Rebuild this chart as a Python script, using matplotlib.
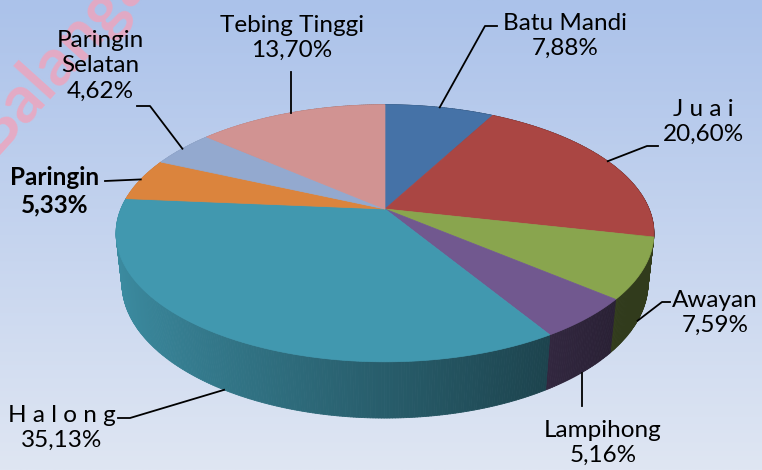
import matplotlib.pyplot as plt
import numpy as np
from matplotlib.collections import PolyCollection
from matplotlib.colors import to_rgb

# data: share of each kecamatan (percent), clockwise from the top
kecamatan = ['Batu Mandi', 'J u a i', 'Awayan', 'Lampihong', 'H a l o n g',
             'Paringin', 'Paringin\nSelatan', 'Tebing Tinggi']
persen = [7.88, 20.60, 7.59, 5.16, 35.13, 5.33, 4.62, 13.70]
warna = ['#4572a7', '#aa4643', '#89a54e', '#71588f', '#4198af',
         '#db843d', '#93a9cf', '#d19392']

# label layout in pixels: text centre, elbow of leader, end of leader
teks_xy = [(565, 36), (703, 122), (715, 313), (603, 443), (62, 428),
           (55, 191), (100, 66), (292, 38)]
siku = [(485, 26), (647, 146), (662, 302), (None, 406), (130, 418),
        (105, 181), (150, 106), (None, 72)]
ujung = [(497, 26), (658, 146), (670, 302), None, (118, 418),
         None, (137, 106), None]

W, H = 762, 470
fig = plt.figure(figsize=(W / 100, H / 100), dpi=100)
ax = fig.add_axes([0, 0, 1, 1])
ax.set_xlim(0, W)
ax.set_ylim(H, 0)
ax.axis('off')

# background gradient
top = np.array(to_rgb('#abc2ea'))
bot = np.array(to_rgb('#dfe6f3'))
t = np.linspace(0, 1, 256)[:, None, None]
grad = top * (1 - t) + bot * t
grad = np.repeat(grad, 2, axis=1)
ax.imshow(grad, extent=[0, W, H, 0], aspect='auto', zorder=0)

# watermark
ax.text(72, 42, 'Balangan', fontsize=48, fontweight='bold', family='Lato',
        color='#f0a3bb', alpha=0.8, rotation=48, ha='center', va='center',
        zorder=1)

# simple perspective projection of the pie
phi = np.radians(28)
D = 4.68
k = 1236
cx, cy = 385, 209
tebal = 0.215


def proj(theta, z=0.0):
    r = np.radians(theta)
    X, Y = np.sin(r), np.cos(r)
    yc = Y * np.sin(phi) + z * np.cos(phi)
    zc = D + Y * np.cos(phi) - z * np.sin(phi)
    return np.column_stack([cx + k * X / zc, cy - k * yc / zc])


batas = np.concatenate([[0], np.cumsum(persen)]) / sum(persen) * 360

# sides
quads, cols, kedalaman = [], [], []
for i in range(len(persen)):
    th = np.linspace(batas[i], batas[i + 1], max(3, int((batas[i + 1] - batas[i]) * 2)))
    atas = proj(th)
    bawah = proj(th, -tebal)
    for j in range(len(th) - 1):
        quads.append([atas[j], atas[j + 1], bawah[j + 1], bawah[j]])
        m = np.radians((th[j] + th[j + 1]) / 2)
        f = max(0.36, 0.61 - 0.32 * np.sin(m))
        c = np.array(to_rgb(warna[i])) * f
        cols.append(c)
        kedalaman.append(np.cos(m))
urut = np.argsort(kedalaman)[::-1]
ax.add_collection(PolyCollection([quads[u] for u in urut],
                                 facecolors=[cols[u] for u in urut],
                                 edgecolors=[cols[u] for u in urut],
                                 linewidths=0.6, zorder=2))

# top faces
for i in range(len(persen)):
    th = np.linspace(batas[i], batas[i + 1], 200)
    pts = np.vstack([[cx, cy], proj(th)])
    ax.fill(pts[:, 0], pts[:, 1], facecolor=warna[i], edgecolor=warna[i],
            linewidth=0.5, zorder=3)

# labels and leader lines
for i, nama in enumerate(kecamatan):
    tengah = (batas[i] + batas[i + 1]) / 2
    z = 0.0 if np.cos(np.radians(tengah)) > 0 else -tebal
    ax0 = proj(np.array([tengah]), z)[0]
    sx, sy = siku[i]
    if sx is None:
        sx = ax0[0]
    xs, ys = [ax0[0], sx], [ax0[1], sy]
    if ujung[i] is not None:
        xs.append(ujung[i][0])
        ys.append(ujung[i][1])
    ax.plot(xs, ys, color='black', linewidth=1.3, zorder=4)
    nilai = f'{persen[i]:.2f}'.replace('.', ',') + '%'
    ax.text(teks_xy[i][0], teks_xy[i][1], nama + '\n' + nilai,
            ha='center', va='center', fontsize=17.5, family='Lato',
            fontweight='bold' if nama == 'Paringin' else 'normal',
            linespacing=1.25, color='black', zorder=5)

fig.savefig('out.png', dpi=100)
